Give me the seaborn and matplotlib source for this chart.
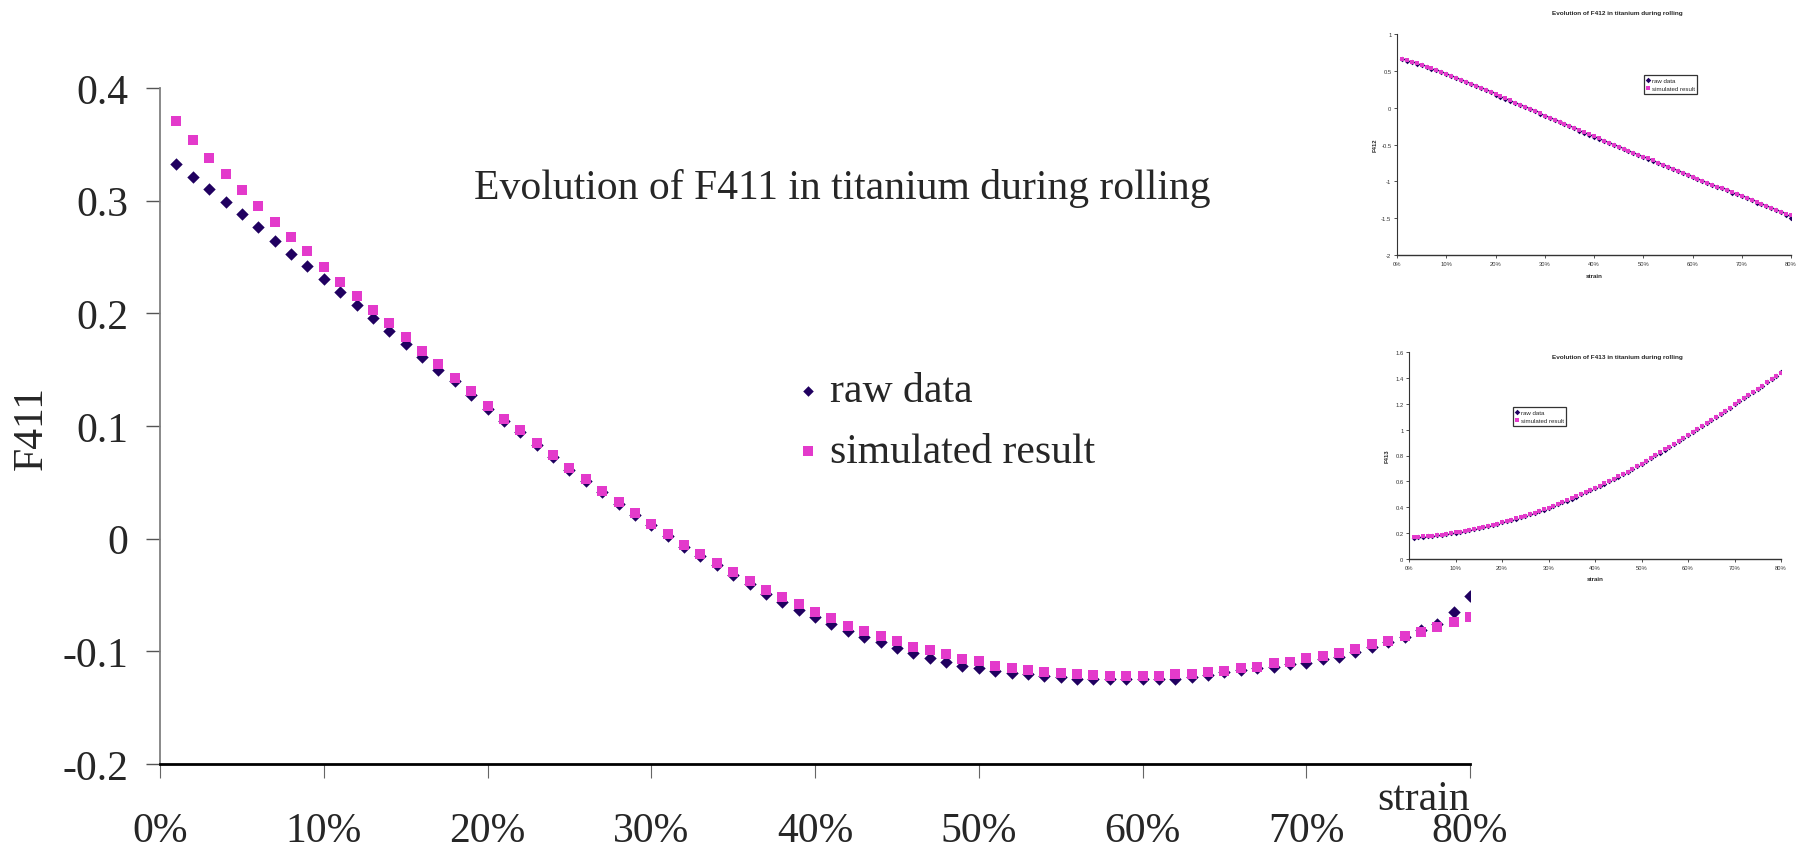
import numpy as np
import matplotlib
matplotlib.use("Agg")
import matplotlib.pyplot as plt
import seaborn as sns
from matplotlib.ticker import PercentFormatter, MultipleLocator

# ---------------- data ----------------
strain = [i / 100 for i in range(1, 81)]

f411_raw = [0.3325, 0.321, 0.310, 0.2988, 0.288, 0.2766, 0.2642, 0.253, 0.2417, 0.2308,
            0.2192, 0.2077, 0.1959, 0.1846, 0.1728, 0.161, 0.150, 0.1397, 0.1275, 0.115,
            0.104, 0.0945, 0.083, 0.0725, 0.061, 0.0515, 0.041, 0.031, 0.021, 0.0118,
            0.0025, -0.007, -0.0155, -0.0235, -0.032, -0.0405, -0.049, -0.0565, -0.0635, -0.0692,
            -0.0757, -0.0819, -0.087, -0.092, -0.097, -0.1017, -0.1062, -0.1091, -0.1127, -0.115,
            -0.1175, -0.1195, -0.1204, -0.1219, -0.1225, -0.1243, -0.1246, -0.1249, -0.1249, -0.1249,
            -0.1249, -0.1245, -0.1225, -0.121, -0.118, -0.1166, -0.115, -0.1136, -0.1115, -0.110,
            -0.1071, -0.1047, -0.1008, -0.0958, -0.0914, -0.087, -0.081, -0.0755, -0.0648, -0.0506]

f411_sim = [0.371, 0.3536, 0.3376, 0.3234, 0.3092, 0.2953, 0.2811, 0.2678, 0.2553, 0.2411,
            0.2281, 0.2157, 0.2027, 0.1911, 0.1793, 0.1663, 0.1553, 0.1423, 0.1313, 0.118,
            0.106, 0.0965, 0.0849, 0.0743, 0.0627, 0.053, 0.0423, 0.0325, 0.0228, 0.0133,
            0.0042, -0.0056, -0.0133, -0.0213, -0.0293, -0.0373, -0.0453, -0.052, -0.0582, -0.0648,
            -0.0707, -0.0772, -0.0822, -0.0866, -0.0911, -0.0964, -0.0988, -0.1026, -0.1068, -0.1088,
            -0.1127, -0.1145, -0.1163, -0.1186, -0.1192, -0.1204, -0.121, -0.1216, -0.1216, -0.1216,
            -0.1216, -0.1201, -0.1201, -0.1186, -0.1172, -0.115, -0.1142, -0.1107, -0.1092, -0.1062,
            -0.1045, -0.1015, -0.098, -0.0935, -0.0906, -0.0867, -0.0826, -0.0787, -0.0742, -0.0692]

f412_sim = [0.66, 0.642, 0.624, 0.601, 0.583, 0.556, 0.533, 0.511, 0.488, 0.456,
            0.434, 0.406, 0.379, 0.352, 0.325, 0.293, 0.266, 0.239, 0.211, 0.18,
            0.153, 0.125, 0.098, 0.066, 0.039, 0.008, -0.02, -0.047, -0.079, -0.11,
            -0.137, -0.165, -0.196, -0.224, -0.251, -0.278, -0.305, -0.337, -0.364, -0.391,
            -0.418, -0.446, -0.473, -0.50, -0.532, -0.559, -0.586, -0.613, -0.636, -0.663,
            -0.69, -0.717, -0.745, -0.772, -0.799, -0.826, -0.853, -0.881, -0.908, -0.935,
            -0.962, -0.989, -1.017, -1.044, -1.071, -1.094, -1.121, -1.148, -1.175, -1.202,
            -1.225, -1.257, -1.284, -1.307, -1.334, -1.361, -1.388, -1.415, -1.438, -1.461]

f412_raw = [0.655, 0.638, 0.62, 0.598, 0.58, 0.553, 0.53, 0.506, 0.484, 0.452,
            0.43, 0.402, 0.375, 0.349, 0.322, 0.29, 0.263, 0.236, 0.208, 0.177,
            0.15, 0.122, 0.095, 0.063, 0.036, 0.005, -0.023, -0.05, -0.082, -0.113,
            -0.14, -0.168, -0.199, -0.227, -0.254, -0.281, -0.31, -0.34, -0.367, -0.394,
            -0.421, -0.449, -0.476, -0.503, -0.535, -0.562, -0.589, -0.622, -0.64, -0.666,
            -0.693, -0.72, -0.748, -0.775, -0.802, -0.829, -0.856, -0.884, -0.911, -0.938,
            -0.965, -0.992, -1.02, -1.047, -1.074, -1.097, -1.124, -1.152, -1.178, -1.205,
            -1.23, -1.26, -1.288, -1.312, -1.338, -1.365, -1.393, -1.422, -1.455, -1.492]

f413_sim = [0.172, 0.173, 0.174, 0.177, 0.180, 0.184, 0.189, 0.194, 0.200, 0.206,
            0.212, 0.218, 0.225, 0.232, 0.240, 0.248, 0.256, 0.265, 0.274, 0.284,
            0.294, 0.304, 0.314, 0.325, 0.336, 0.347, 0.359, 0.371, 0.383, 0.396,
            0.410, 0.424, 0.438, 0.453, 0.468, 0.484, 0.500, 0.516, 0.533, 0.550,
            0.567, 0.584, 0.601, 0.619, 0.638, 0.657, 0.676, 0.696, 0.716, 0.737,
            0.758, 0.780, 0.802, 0.824, 0.847, 0.869, 0.891, 0.913, 0.936, 0.959,
            0.982, 1.005, 1.028, 1.051, 1.075, 1.099, 1.123, 1.147, 1.171, 1.196,
            1.220, 1.244, 1.268, 1.293, 1.317, 1.341, 1.366, 1.391, 1.415, 1.440]

f413_raw = [0.165, 0.168, 0.171, 0.174, 0.178, 0.182, 0.187, 0.192, 0.198, 0.204,
            0.210, 0.217, 0.224, 0.231, 0.239, 0.247, 0.255, 0.264, 0.273, 0.283,
            0.293, 0.303, 0.313, 0.324, 0.335, 0.346, 0.358, 0.370, 0.382, 0.395,
            0.409, 0.423, 0.437, 0.452, 0.467, 0.483, 0.499, 0.515, 0.532, 0.549,
            0.566, 0.583, 0.600, 0.618, 0.637, 0.656, 0.675, 0.695, 0.715, 0.736,
            0.757, 0.779, 0.801, 0.823, 0.846, 0.868, 0.890, 0.912, 0.935, 0.958,
            0.981, 1.004, 1.027, 1.050, 1.074, 1.098, 1.122, 1.146, 1.170, 1.195,
            1.219, 1.243, 1.267, 1.292, 1.316, 1.340, 1.365, 1.390, 1.416, 1.445]

series_labels = ["raw data", "simulated result"]

RAW_C = "#200060"
SIM_C = "#E33ACB"

sns.set_style("white")
plt.rcParams["font.family"] = ["Liberation Serif", "DejaVu Serif"]

fig = plt.figure(figsize=(17.96, 8.54), dpi=100)

# ---------------- main chart ----------------
ax = fig.add_axes([0.0891, 0.1042, 0.7294, 0.7916])
sns.scatterplot(x=strain, y=f411_raw, marker="D", s=40, color=RAW_C, linewidth=0,
                ax=ax, label=series_labels[0], zorder=3)
sns.scatterplot(x=strain, y=f411_sim, marker="s", s=62, color=SIM_C, linewidth=0,
                ax=ax, label=series_labels[1], zorder=4)

ax.set_xlim(0, 0.8)
ax.set_ylim(-0.2, 0.4)
ax.xaxis.set_major_locator(MultipleLocator(0.1))
ax.xaxis.set_major_formatter(PercentFormatter(xmax=1, decimals=0))
ax.set_yticks([-0.2, -0.1, 0, 0.1, 0.2, 0.3, 0.4])
ax.set_yticklabels(["-0.2", "-0.1", "0", "0.1", "0.2", "0.3", "0.4"])
for s in ["top", "right"]:
    ax.spines[s].set_visible(False)
ax.spines["left"].set_color("#808080")
ax.spines["left"].set_linewidth(1.3)
ax.spines["bottom"].set_color("black")
ax.spines["bottom"].set_linewidth(2.0)
ax.tick_params(axis="y", left=True, direction="out", length=10, width=1.0, color="#555555",
               labelsize=30, pad=13)
ax.tick_params(axis="x", bottom=True, direction="out", length=10, width=0.8, color="#666666",
               labelsize=30, pad=24)
ax.set_xlabel("")
ax.set_ylabel("")
ax.text(1.0, -0.052, "strain", transform=ax.transAxes, ha="right", va="center", fontsize=30)
fig.text(32 / 1796, 1 - 428 / 854, "F411", rotation=90, ha="center", va="center", fontsize=30)
fig.text(842 / 1796, 1 - 188 / 854, "Evolution of F411 in titanium during rolling",
         ha="center", va="center", fontsize=30)

leg = ax.legend(loc="upper left", bbox_to_anchor=(795 / 1796, 1 - 373 / 854),
                bbox_transform=fig.transFigure, frameon=False, fontsize=30,
                markerscale=0.85, handlelength=0.6, handletextpad=0.25, labelspacing=0.52,
                borderpad=0, borderaxespad=0)

# ---------------- inset helper ----------------
def inset(rect, raw, sim, ylim, yticks, yticklabels, ylabel, title, title_xy, legend_xy, xlabel_y):
    a = fig.add_axes(rect)
    sns.scatterplot(x=strain, y=raw, marker="D", s=8, color=RAW_C, linewidth=0, ax=a,
                    label=series_labels[0], zorder=3)
    sns.scatterplot(x=strain, y=sim, marker="s", s=11, color=SIM_C, linewidth=0, ax=a,
                    label=series_labels[1], zorder=4)
    a.set_xlim(0, 0.8)
    a.set_ylim(*ylim)
    a.set_xticks([i / 10 for i in range(9)])
    a.xaxis.set_major_formatter(PercentFormatter(xmax=1, decimals=0))
    a.set_yticks(yticks)
    a.set_yticklabels(yticklabels)
    for s in ["top", "right"]:
        a.spines[s].set_visible(False)
    a.spines["left"].set_color("#333333")
    a.spines["left"].set_linewidth(0.8)
    a.spines["bottom"].set_color("#333333")
    a.spines["bottom"].set_linewidth(1.0)
    a.tick_params(left=True, bottom=True, direction="out", length=2, width=0.6, color="#333333",
                  labelsize=4.2, pad=2, labelcolor="#333333")
    for lbl in a.get_xticklabels() + a.get_yticklabels():
        lbl.set_family(["Liberation Sans", "DejaVu Sans"])
    a.set_xlabel("")
    a.set_ylabel("")
    fig.text(title_xy[0] / 1796, 1 - title_xy[1] / 854, title, ha="center", va="center",
             fontsize=4.6, fontweight="bold", family=["Liberation Sans", "DejaVu Sans"])
    pos = a.get_position()
    fig.text(pos.x0 - 22 / 1796, pos.y0 + pos.height / 2, ylabel, rotation=90, ha="center",
             va="center", fontsize=4.2, fontweight="bold", family=["Liberation Sans", "DejaVu Sans"])
    fig.text(pos.x0 + pos.width / 2, 1 - xlabel_y / 854, "strain", ha="center", va="center",
             fontsize=4.4, fontweight="bold", family=["Liberation Sans", "DejaVu Sans"])
    lg = a.legend(loc="upper left", bbox_to_anchor=(legend_xy[0] / 1796, 1 - legend_xy[1] / 854),
                  bbox_transform=fig.transFigure, frameon=True, fancybox=False,
                  prop={"family": ["Liberation Sans", "DejaVu Sans"], "size": 4.4},
                  markerscale=1.0, handlelength=0.5, handletextpad=0.3, labelspacing=0.45,
                  borderpad=0.45, borderaxespad=0)
    lg.get_frame().set_edgecolor("black")
    lg.get_frame().set_linewidth(0.9)
    return a

inset([1397 / 1796, 1 - 256 / 854, 394 / 1796, 221 / 854], f412_raw, f412_sim,
      (-2, 1), [-2, -1.5, -1, -0.5, 0, 0.5, 1], ["-2", "-1.5", "-1", "-0.5", "0", "0.5", "1"],
      "F412", "Evolution of F412 in titanium during rolling", (1617, 13), (1644, 76), 277)

inset([1409 / 1796, 1 - 560 / 854, 372 / 1796, 207 / 854], f413_raw, f413_sim,
      (0, 1.6), [0, 0.2, 0.4, 0.6, 0.8, 1.0, 1.2, 1.4, 1.6],
      ["0", "0.2", "0.4", "0.6", "0.8", "1", "1.2", "1.4", "1.6"],
      "F413", "Evolution of F413 in titanium during rolling", (1617, 358), (1513, 408), 580)

fig.savefig("out.png", dpi=100)
